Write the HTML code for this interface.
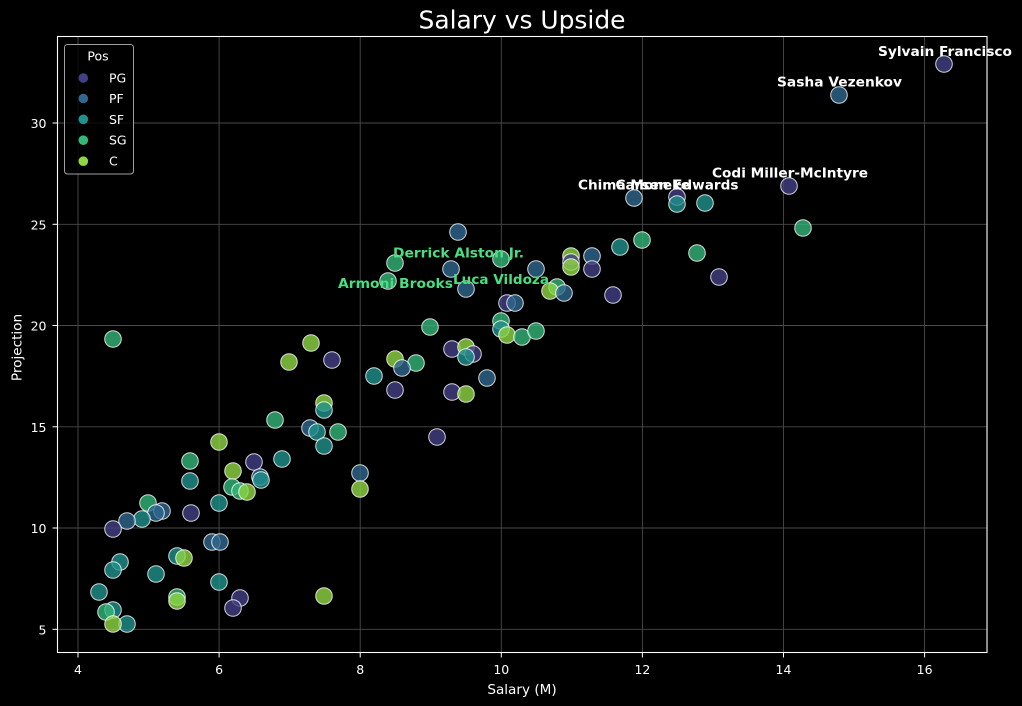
<!DOCTYPE html>
<html><head><meta charset="utf-8"><style>
html,body{margin:0;padding:0;background:#000;}
svg{display:block;}
text{font-family:"DejaVu Sans","Liberation Sans",sans-serif;fill:#fff;}
</style></head><body>
<svg width="1022" height="706" viewBox="0 0 1022 706" xmlns="http://www.w3.org/2000/svg">
<rect width="1022" height="706" fill="#000"/>
<text x="522" y="28.5" font-size="25" text-anchor="middle" textLength="207" lengthAdjust="spacingAndGlyphs">Salary vs Upside</text>
<g stroke="#4a4a4a" stroke-width="0.9">
<line x1="78" y1="36.5" x2="78" y2="652.5"/><line x1="219.1" y1="36.5" x2="219.1" y2="652.5"/><line x1="360.2" y1="36.5" x2="360.2" y2="652.5"/><line x1="501.3" y1="36.5" x2="501.3" y2="652.5"/><line x1="642.4" y1="36.5" x2="642.4" y2="652.5"/><line x1="783.5" y1="36.5" x2="783.5" y2="652.5"/><line x1="924.6" y1="36.5" x2="924.6" y2="652.5"/>
<line x1="57.5" y1="629.3" x2="987" y2="629.3"/><line x1="57.5" y1="528" x2="987" y2="528"/><line x1="57.5" y1="426.8" x2="987" y2="426.8"/><line x1="57.5" y1="325.5" x2="987" y2="325.5"/><line x1="57.5" y1="224.3" x2="987" y2="224.3"/><line x1="57.5" y1="123" x2="987" y2="123"/>
</g>
<g stroke="#fff" stroke-width="1">
<line x1="78" y1="652.5" x2="78" y2="657.5"/><line x1="219.1" y1="652.5" x2="219.1" y2="657.5"/><line x1="360.2" y1="652.5" x2="360.2" y2="657.5"/><line x1="501.3" y1="652.5" x2="501.3" y2="657.5"/><line x1="642.4" y1="652.5" x2="642.4" y2="657.5"/><line x1="783.5" y1="652.5" x2="783.5" y2="657.5"/><line x1="924.6" y1="652.5" x2="924.6" y2="657.5"/>
<line x1="52.5" y1="629.3" x2="57.5" y2="629.3"/><line x1="52.5" y1="528" x2="57.5" y2="528"/><line x1="52.5" y1="426.8" x2="57.5" y2="426.8"/><line x1="52.5" y1="325.5" x2="57.5" y2="325.5"/><line x1="52.5" y1="224.3" x2="57.5" y2="224.3"/><line x1="52.5" y1="123" x2="57.5" y2="123"/>
</g>
<g font-size="12.5" text-anchor="middle">
<text x="78" y="674">4</text><text x="219.1" y="674">6</text><text x="360.2" y="674">8</text><text x="501.3" y="674">10</text><text x="642.4" y="674">12</text><text x="783.5" y="674">14</text><text x="924.6" y="674">16</text>
</g>
<g font-size="12.5" text-anchor="end">
<text x="46.5" y="634.5">5</text><text x="46.5" y="533.2">10</text><text x="46.5" y="432">15</text><text x="46.5" y="330.7">20</text><text x="46.5" y="229.5">25</text><text x="46.5" y="128.2">30</text>
</g>
<text x="522" y="694" font-size="13.6" text-anchor="middle">Salary (M)</text>
<text transform="translate(21.6,347.5) rotate(-90)" font-size="13.6" text-anchor="middle">Projection</text>
<g stroke="#fff" stroke-opacity="0.8" stroke-width="1" fill-opacity="0.8">
<circle cx="944" cy="64" r="8.3" fill="#433e85"/>
<circle cx="839" cy="95" r="8.3" fill="#31688e"/>
<circle cx="789" cy="186" r="8.3" fill="#433e85"/>
<circle cx="634" cy="198" r="8.3" fill="#31688e"/>
<circle cx="677" cy="197" r="8.3" fill="#433e85"/>
<circle cx="677" cy="204" r="8.3" fill="#21918c"/>
<circle cx="705" cy="203" r="8.3" fill="#21918c"/>
<circle cx="803" cy="228" r="8.3" fill="#35b779"/>
<circle cx="458" cy="232" r="8.3" fill="#31688e"/>
<circle cx="642" cy="240" r="8.3" fill="#35b779"/>
<circle cx="620" cy="247" r="8.3" fill="#21918c"/>
<circle cx="697" cy="253" r="8.3" fill="#35b779"/>
<circle cx="571" cy="256" r="8.3" fill="#90d743"/>
<circle cx="592" cy="256" r="8.3" fill="#31688e"/>
<circle cx="571" cy="262" r="8.3" fill="#433e85"/>
<circle cx="571" cy="267" r="8.3" fill="#90d743"/>
<circle cx="592" cy="269" r="8.3" fill="#433e85"/>
<circle cx="501" cy="259" r="8.3" fill="#35b779"/>
<circle cx="395" cy="263" r="8.3" fill="#35b779"/>
<circle cx="451" cy="269" r="8.3" fill="#31688e"/>
<circle cx="536" cy="269" r="8.3" fill="#31688e"/>
<circle cx="388" cy="281" r="8.3" fill="#35b779"/>
<circle cx="466" cy="289" r="8.3" fill="#31688e"/>
<circle cx="557" cy="287" r="8.3" fill="#35b779"/>
<circle cx="550" cy="291" r="8.3" fill="#90d743"/>
<circle cx="564" cy="293" r="8.3" fill="#31688e"/>
<circle cx="613" cy="295" r="8.3" fill="#433e85"/>
<circle cx="719" cy="277" r="8.3" fill="#433e85"/>
<circle cx="507" cy="303" r="8.3" fill="#433e85"/>
<circle cx="515" cy="303" r="8.3" fill="#31688e"/>
<circle cx="501" cy="321" r="8.3" fill="#35b779"/>
<circle cx="501" cy="329" r="8.3" fill="#21918c"/>
<circle cx="507" cy="335" r="8.3" fill="#90d743"/>
<circle cx="522" cy="337" r="8.3" fill="#35b779"/>
<circle cx="536" cy="331" r="8.3" fill="#35b779"/>
<circle cx="430" cy="327" r="8.3" fill="#35b779"/>
<circle cx="113" cy="339" r="8.3" fill="#35b779"/>
<circle cx="311" cy="343" r="8.3" fill="#90d743"/>
<circle cx="289" cy="362" r="8.3" fill="#90d743"/>
<circle cx="332" cy="360" r="8.3" fill="#433e85"/>
<circle cx="452" cy="349" r="8.3" fill="#433e85"/>
<circle cx="466" cy="347" r="8.3" fill="#90d743"/>
<circle cx="473" cy="354" r="8.3" fill="#433e85"/>
<circle cx="466" cy="357" r="8.3" fill="#21918c"/>
<circle cx="395" cy="359" r="8.3" fill="#90d743"/>
<circle cx="416" cy="363" r="8.3" fill="#35b779"/>
<circle cx="402" cy="368" r="8.3" fill="#31688e"/>
<circle cx="374" cy="376" r="8.3" fill="#21918c"/>
<circle cx="487" cy="378" r="8.3" fill="#31688e"/>
<circle cx="395" cy="390" r="8.3" fill="#433e85"/>
<circle cx="452" cy="392" r="8.3" fill="#433e85"/>
<circle cx="466" cy="394" r="8.3" fill="#90d743"/>
<circle cx="324" cy="403" r="8.3" fill="#90d743"/>
<circle cx="324" cy="410" r="8.3" fill="#21918c"/>
<circle cx="275" cy="420" r="8.3" fill="#35b779"/>
<circle cx="310" cy="428" r="8.3" fill="#31688e"/>
<circle cx="317" cy="432" r="8.3" fill="#21918c"/>
<circle cx="338" cy="432" r="8.3" fill="#35b779"/>
<circle cx="324" cy="446" r="8.3" fill="#21918c"/>
<circle cx="437" cy="437" r="8.3" fill="#433e85"/>
<circle cx="219" cy="442" r="8.3" fill="#90d743"/>
<circle cx="190" cy="461" r="8.3" fill="#35b779"/>
<circle cx="254" cy="462" r="8.3" fill="#433e85"/>
<circle cx="282" cy="459" r="8.3" fill="#21918c"/>
<circle cx="190" cy="481" r="8.3" fill="#21918c"/>
<circle cx="233" cy="471" r="8.3" fill="#90d743"/>
<circle cx="260" cy="477" r="8.3" fill="#31688e"/>
<circle cx="261" cy="480" r="8.3" fill="#21918c"/>
<circle cx="360" cy="473" r="8.3" fill="#31688e"/>
<circle cx="360" cy="489" r="8.3" fill="#90d743"/>
<circle cx="232" cy="487" r="8.3" fill="#35b779"/>
<circle cx="240" cy="491" r="8.3" fill="#35b779"/>
<circle cx="247" cy="492" r="8.3" fill="#90d743"/>
<circle cx="219" cy="503" r="8.3" fill="#21918c"/>
<circle cx="148" cy="503" r="8.3" fill="#35b779"/>
<circle cx="162" cy="511" r="8.3" fill="#31688e"/>
<circle cx="156" cy="513" r="8.3" fill="#31688e"/>
<circle cx="142" cy="519" r="8.3" fill="#21918c"/>
<circle cx="127" cy="521" r="8.3" fill="#31688e"/>
<circle cx="113" cy="529" r="8.3" fill="#433e85"/>
<circle cx="191" cy="513" r="8.3" fill="#433e85"/>
<circle cx="212" cy="542" r="8.3" fill="#31688e"/>
<circle cx="220" cy="542" r="8.3" fill="#31688e"/>
<circle cx="177" cy="556" r="8.3" fill="#21918c"/>
<circle cx="184" cy="558" r="8.3" fill="#90d743"/>
<circle cx="120" cy="562" r="8.3" fill="#21918c"/>
<circle cx="113" cy="570" r="8.3" fill="#21918c"/>
<circle cx="156" cy="574" r="8.3" fill="#21918c"/>
<circle cx="219" cy="582" r="8.3" fill="#21918c"/>
<circle cx="99" cy="592" r="8.3" fill="#21918c"/>
<circle cx="177" cy="597" r="8.3" fill="#35b779"/>
<circle cx="177" cy="601" r="8.3" fill="#90d743"/>
<circle cx="240" cy="598" r="8.3" fill="#433e85"/>
<circle cx="233" cy="608" r="8.3" fill="#433e85"/>
<circle cx="324" cy="596" r="8.3" fill="#90d743"/>
<circle cx="113" cy="610" r="8.3" fill="#21918c"/>
<circle cx="106" cy="612" r="8.3" fill="#35b779"/>
<circle cx="127" cy="624" r="8.3" fill="#21918c"/>
<circle cx="113" cy="624" r="8.3" fill="#90d743"/>
</g>
<rect x="57.5" y="36.5" width="929.5" height="616" fill="none" stroke="#fff" stroke-width="1.1"/>
<g font-size="13.6" font-weight="bold" text-anchor="middle">
<text x="945" y="56" textLength="134" lengthAdjust="spacingAndGlyphs">Sylvain Francisco</text>
<text x="839.5" y="86.5" textLength="125" lengthAdjust="spacingAndGlyphs">Sasha Vezenkov</text>
<text x="790" y="177.7" textLength="156" lengthAdjust="spacingAndGlyphs">Codi Miller-McIntyre</text>
<text x="634" y="189.3" textLength="112" lengthAdjust="spacingAndGlyphs">Chima Moneke</text>
<text x="677" y="189.3" textLength="123" lengthAdjust="spacingAndGlyphs">Carsen Edwards</text>
<text x="458.5" y="257.5" fill="#4ade80" style="fill:#4ade80" textLength="131" lengthAdjust="spacingAndGlyphs">Derrick Alston Jr.</text>
<text x="395.5" y="288" fill="#4ade80" style="fill:#4ade80" textLength="115" lengthAdjust="spacingAndGlyphs">Armoni Brooks</text>
<text x="501" y="284" fill="#4ade80" style="fill:#4ade80" textLength="96" lengthAdjust="spacingAndGlyphs">Luca Vildoza</text>
</g>
<rect x="64.5" y="44.5" width="69" height="129.5" rx="3" fill="#000" fill-opacity="0.8" stroke="#a0a0a0" stroke-width="1"/>
<text x="98" y="60.5" font-size="12.5" text-anchor="middle">Pos</text>
<circle cx="83.3" cy="78" r="4.8" fill="#433e85"/>
<circle cx="83.3" cy="98.5" r="4.8" fill="#31688e"/>
<circle cx="83.3" cy="119.3" r="4.8" fill="#21918c"/>
<circle cx="83.3" cy="140.2" r="4.8" fill="#35b779"/>
<circle cx="83.3" cy="161.2" r="4.8" fill="#90d743"/>
<g font-size="12.5">
<text x="109" y="82.5">PG</text>
<text x="109" y="103">PF</text>
<text x="109" y="123.8">SF</text>
<text x="109" y="144.7">SG</text>
<text x="109" y="165.7">C</text>
</g>
</svg>
</body></html>
